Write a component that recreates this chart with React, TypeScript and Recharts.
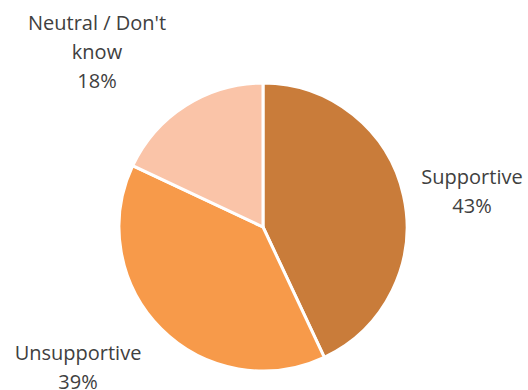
import { PieChart, Pie, Cell } from "recharts";

const categories = ["Supportive", "Unsupportive", "Neutral / Don't know"];
const values = [43, 39, 18];
const COLORS = ["#C97C3A", "#F79A4A", "#FAC4A8"];

// label anchor offsets from the pie centre (excel-like placement)
const LABEL_OFFSETS = [
  [209, -51],
  [-185, 125],
  [-166, -205],
];

const data = categories.map((name, i) => ({ name, value: values[i] }));

function wrap(text: string, max = 16) {
  const words = text.split(" ");
  const lines: string[] = [];
  let cur = "";
  for (const w of words) {
    const next = cur ? cur + " " + w : w;
    if (next.length > max && cur) {
      lines.push(cur);
      cur = w;
    } else cur = next;
  }
  if (cur) lines.push(cur);
  return lines;
}

const renderLabel = (props: any) => {
  const { cx, cy, index, name, percent } = props;
  const [dx, dy] = LABEL_OFFSETS[index];
  const lines = [...wrap(name), `${Math.round(percent * 100)}%`];
  return (
    <text
      x={cx + dx}
      y={cy + dy}
      textAnchor="middle"
      fill="#404040"
      fontSize={20}
      fontFamily="'Open Sans', sans-serif"
    >
      {lines.map((l, i) => (
        <tspan key={i} x={cx + dx} y={cy + dy + i * 29} dominantBaseline="central">
          {l}
        </tspan>
      ))}
    </text>
  );
};

export default function App() {
  return (
    <div style={{ position: "absolute", left: 0, top: 0, background: "#fff" }}>
      <PieChart width={528} height={390} margin={{ top: 0, right: 0, bottom: 0, left: 0 }}>
        <Pie
          data={data}
          dataKey="value"
          nameKey="name"
          cx={263}
          cy={227}
          outerRadius={144}
          startAngle={90}
          endAngle={-270}
          stroke="#fff"
          strokeWidth={3}
          label={renderLabel}
          labelLine={false}
          isAnimationActive={false}
        >
          {data.map((_, i) => (
            <Cell key={i} fill={COLORS[i]} />
          ))}
        </Pie>
      </PieChart>
    </div>
  );
}
